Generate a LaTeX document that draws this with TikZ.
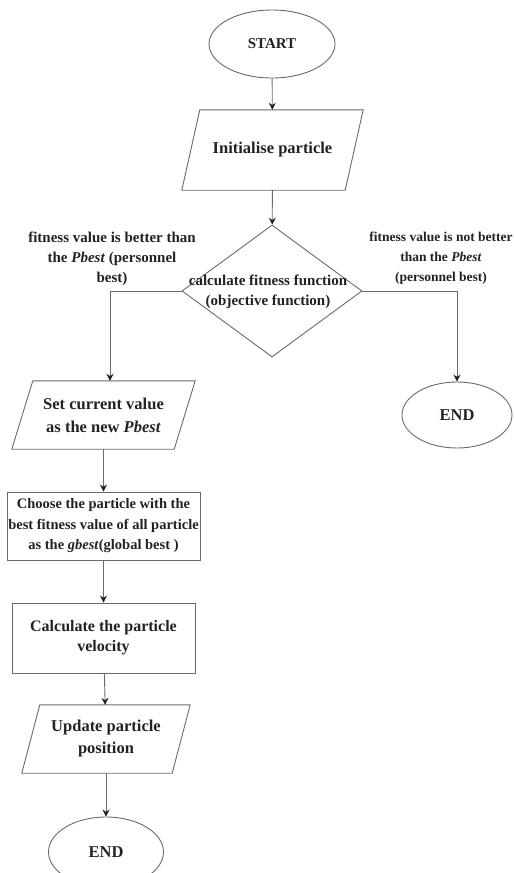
\documentclass[tikz,border=0pt]{standalone}
\usepackage{fontspec}
\setmainfont{Liberation Serif}
\usetikzlibrary{shapes.geometric,arrows.meta}
\definecolor{ln}{HTML}{6A6A6A}
\definecolor{tx}{HTML}{222222}
\begin{document}
\begin{tikzpicture}[x=1pt,y=-1pt,
  every node/.style={text=tx,font=\fontsize{15}{20}\selectfont\bfseries,align=center},
  big/.style={font=\fontsize{16.5}{23}\selectfont\bfseries},
  term/.style={ellipse,draw=ln,line width=0.9pt,fill=white,inner sep=0pt},
  proc/.style={rectangle,draw=ln,line width=0.9pt,inner sep=0pt},
  para/.style={rectangle,inner sep=0pt},
  pline/.style={draw=ln,line width=0.9pt},
  arr/.style={draw=ln,line width=0.9pt,-{Stealth[length=7pt,width=7pt,color=tx]}},
  lbl/.style={inner sep=0pt}]
\useasboundingbox (0,0) rectangle (514,873);
% terminals
\node[term,minimum width=126pt,minimum height=68pt] (start) at (272,44) {START};
\node[term,big,minimum width=110pt,minimum height=66pt] (rend) at (457,415) {END};
\node[term,big,minimum width=115pt,minimum height=70pt] (bend) at (106,852) {END};
% parallelograms
\node[para,big,minimum width=181pt,minimum height=80pt] (init) at (272.5,150) {Initialise particle};
\draw[pline] ([xshift=18pt]init.north west) -- (init.north east) -- ([xshift=-18pt]init.south east) -- (init.south west) -- cycle;
\node[para,big,minimum width=183pt,minimum height=68pt] (setc) at (103.5,415) {Set current value\\as the new \textit{Pbest}};
\draw[pline] ([xshift=21pt]setc.north west) -- (setc.north east) -- ([xshift=-21pt]setc.south east) -- (setc.south west) -- cycle;
\node[para,big,minimum width=168pt,minimum height=68pt,font=\fontsize{16.5}{22}\selectfont\bfseries] (upd) at (106,739) {Update particle\\position};
\draw[pline] ([xshift=18pt]upd.north west) -- (upd.north east) -- ([xshift=-18pt]upd.south east) -- (upd.south west) -- cycle;
% decision
\node[diamond,draw=ln,line width=0.9pt,minimum width=180pt,minimum height=132pt,inner sep=0pt] (dec) at (272,291) {};
\node[lbl] (dect) at (268,292) {calculate fitness function\\(objective function)};
% processes
\node[proc,minimum width=193pt,minimum height=68pt,font=\fontsize{14.5}{20.5}\selectfont\bfseries] (choose) at (103.5,526) {Choose the particle with the\\best fitness value of all particle\\as the \textit{gbest}(global best )};
\node[proc,big,minimum width=183pt,minimum height=70pt,font=\fontsize{16}{20}\selectfont\bfseries] (calc) at (103.5,638) {Calculate the particle\\velocity};
% labels
\node[lbl] (l1) at (112,259) {fitness value is better than\\the \textit{Pbest} (personnel\\best)};
\node[lbl,font=\fontsize{13.5}{20}\selectfont\bfseries] (l2) at (441,258) {fitness value is not better\\than the \textit{Pbest}\\(personnel best)};
% connectors
\draw[arr] (start) -- (init);
\draw[arr] (init) -- (dec);
\coordinate (lin) at ([xshift=6.5pt]setc.north);
\draw[arr] (dec.west) -| (lin);
\draw[arr] (dec.east) -| (rend.north);
\draw[arr] (setc) -- (choose);
\draw[arr] (choose) -- (calc);
\draw[arr] (calc) -- (upd);
\draw[arr] (upd) -- (bend);
\end{tikzpicture}
\end{document}
